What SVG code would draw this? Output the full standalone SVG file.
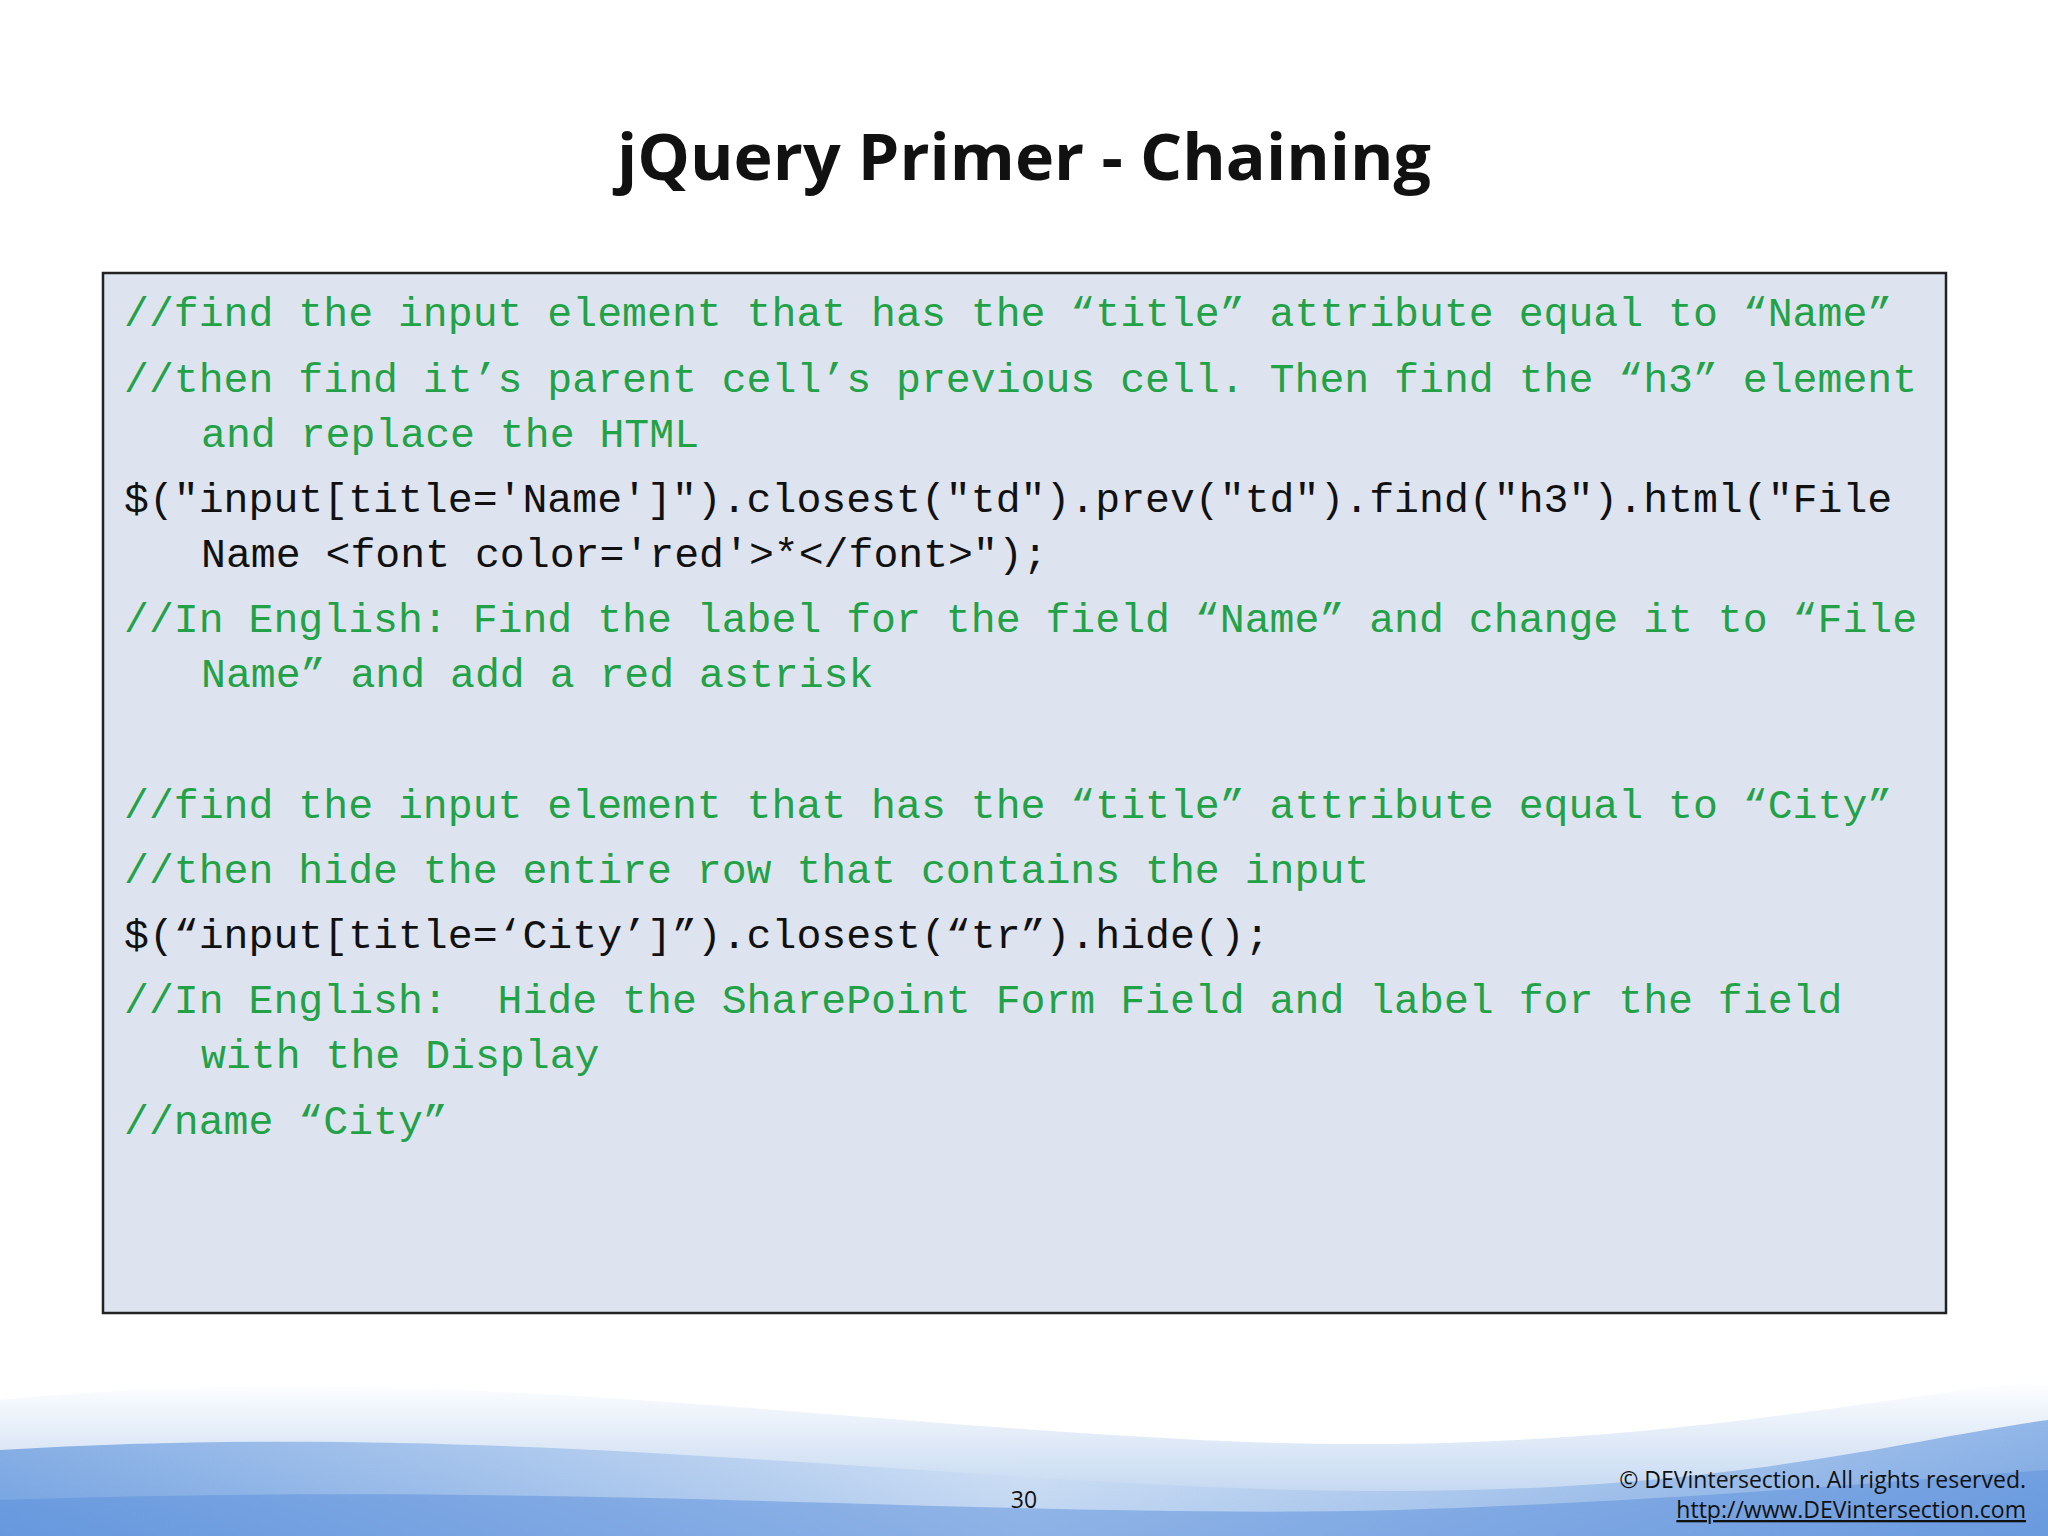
<svg xmlns="http://www.w3.org/2000/svg" width="2048" height="1536" viewBox="0 0 2048 1536">
<style>
.c{font-family:"Liberation Mono","DejaVu Sans Mono",monospace;font-size:41.5px;white-space:pre}
.g{fill:#22a246}
.k{fill:#111}
.f{font-family:"Open Sans","Liberation Sans",sans-serif;font-size:23px;fill:#111}
</style>
<defs>
<linearGradient id="w" x1="0" y1="0" x2="0" y2="1">
<stop offset="0" stop-color="#ffffff"/><stop offset="1" stop-color="#7aa6e0"/>
</linearGradient>
<linearGradient id="w2" x1="0" y1="0" x2="1" y2="0">
<stop offset="0" stop-color="#3f7fd6"/><stop offset="0.5" stop-color="#c9dcf4"/><stop offset="1" stop-color="#4a86d8"/>
</linearGradient>
</defs>
<rect width="2048" height="1536" fill="#fff"/>
<g id="wave">
<path d="M0 1400 C400 1360 800 1420 1200 1440 C1600 1460 1850 1400 2048 1380 L2048 1536 L0 1536 Z" fill="url(#w)" opacity="0.6"/>
<path d="M0 1450 C500 1420 900 1480 1300 1490 C1700 1500 1900 1440 2048 1420 L2048 1536 L0 1536 Z" fill="url(#w2)" opacity="0.55"/>
<path d="M0 1500 C600 1480 1000 1520 1400 1510 C1700 1500 1900 1480 2048 1470 L2048 1536 L0 1536 Z" fill="#5b90dc" opacity="0.5"/>
</g>
<g id="title"><text x="1024" y="180" text-anchor="middle" font-family="'Open Sans','Liberation Sans',sans-serif" font-weight="bold" font-size="64" fill="#111" textLength="814" lengthAdjust="spacingAndGlyphs">jQuery Primer - Chaining</text></g>
<g id="box">
<rect x="103" y="273" width="1843" height="1040" fill="#dde4f0" stroke="#222" stroke-width="2.5"/>
<text class="c g" x="124" y="326">//find the input element that has the “title” attribute equal to “Name”</text>
<text class="c g" x="124" y="392">//then find it’s parent cell’s previous cell. Then find the “h3” element</text>
<text class="c g" x="201" y="447">and replace the HTML</text>
<text class="c k" x="124" y="512">$("input[title='Name']").closest("td").prev("td").find("h3").html("File</text>
<text class="c k" x="201" y="567">Name &lt;font color='red'&gt;*&lt;/font&gt;");</text>
<text class="c g" x="124" y="632">//In English: Find the label for the field “Name” and change it to “File</text>
<text class="c g" x="201" y="687">Name” and add a red astrisk</text>
<text class="c g" x="124" y="818">//find the input element that has the “title” attribute equal to “City”</text>
<text class="c g" x="124" y="883">//then hide the entire row that contains the input</text>
<text class="c k" x="124" y="948">$(“input[title=‘City’]”).closest(“tr”).hide();</text>
<text class="c g" x="124" y="1013" xml:space="preserve">//In English:  Hide the SharePoint Form Field and label for the field</text>
<text class="c g" x="201" y="1068">with the Display</text>
<text class="c g" x="124" y="1134">//name “City”</text>
</g>
<g id="footer">
<text class="f" x="1024" y="1508" text-anchor="middle" font-size="28">30</text>
<text class="f" x="2026" y="1488" text-anchor="end">© DEVintersection. All rights reserved.</text>
<text class="f" x="2026" y="1518" text-anchor="end" text-decoration="underline">http://www.DEVintersection.com</text>
</g>
</svg>
